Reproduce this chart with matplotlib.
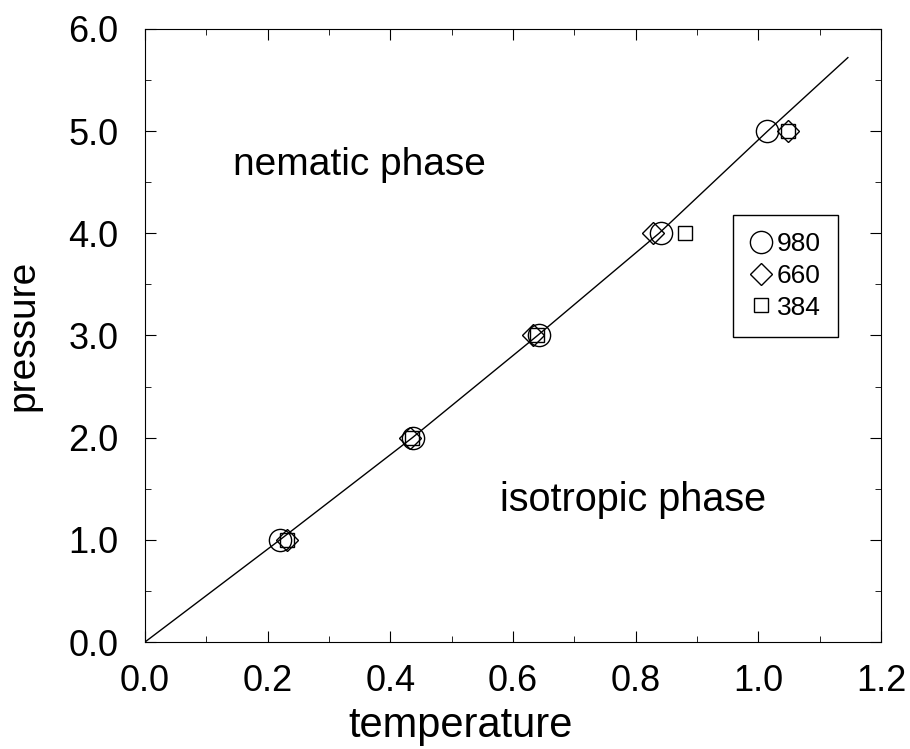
import numpy as np
import matplotlib.pyplot as plt
from matplotlib.ticker import MultipleLocator, FormatStrFormatter

plt.rcParams['font.family'] = ['Liberation Sans', 'DejaVu Sans']

# transition line
line_t = [0.0, 0.22, 0.436, 0.64, 0.838, 1.015, 1.146]
line_p = [0.0, 1.0, 2.0, 3.0, 4.0, 5.0, 5.72]

pressure = [1.0, 2.0, 3.0, 4.0, 5.0]
t_980 = [0.220, 0.437, 0.642, 0.841, 1.014]
t_660 = [0.231, 0.432, 0.633, 0.828, 1.048]
t_384 = [0.231, 0.435, 0.639, 0.880, 1.048]

fig = plt.figure(figsize=(9.1, 7.49), dpi=100)
ax = fig.add_axes([145 / 910, 1 - 642 / 749, 736 / 910, 613 / 749])

ax.plot(line_t, line_p, color='black', lw=1.0)
ax.plot(t_980, pressure, 'o', ms=16, mfc='none', mec='black', mew=1.0, label='980')
ax.plot(t_660, pressure, 'D', ms=11, mfc='none', mec='black', mew=1.0, label='660')
ax.plot(t_384, pressure, 's', ms=10.5, mfc='none', mec='black', mew=1.0, label='384')

ax.text(0.1435, 4.67, 'nematic phase', fontsize=28, va='center', ha='left')
ax.text(0.579, 1.39, 'isotropic phase', fontsize=28.5, va='center', ha='left')

ax.set_xlim(0, 1.2)
ax.set_ylim(0, 6)
ax.xaxis.set_major_locator(MultipleLocator(0.2))
ax.xaxis.set_minor_locator(MultipleLocator(0.1))
ax.yaxis.set_major_locator(MultipleLocator(1.0))
ax.yaxis.set_minor_locator(MultipleLocator(0.5))
ax.xaxis.set_major_formatter(FormatStrFormatter('%.1f'))
ax.yaxis.set_major_formatter(FormatStrFormatter('%.1f'))
ax.tick_params(which='both', direction='in', top=True, right=True, labelsize=26)
ax.tick_params(which='major', length=8)
ax.tick_params(which='minor', length=4)
ax.tick_params(axis='x', which='major', pad=16)
ax.tick_params(axis='y', which='major', pad=19)

# x label sits a bit left of centre in the original
ax.set_xlabel('temperature', fontsize=30)
ax.xaxis.set_label_coords(0.429, -0.155, transform=ax.transAxes)
ax.xaxis.label.set_va('baseline')
ax.set_ylabel('pressure', fontsize=28, labelpad=19)

leg = ax.legend(loc='upper left', bbox_to_anchor=(0.799, 0.697), fontsize=19,
                handlelength=0.8, handletextpad=0.2, borderpad=0.65,
                labelspacing=0.3, fancybox=False, edgecolor='black',
                framealpha=1, borderaxespad=0)
leg.get_frame().set_linewidth(1.0)

fig.savefig('out.png', dpi=100)
